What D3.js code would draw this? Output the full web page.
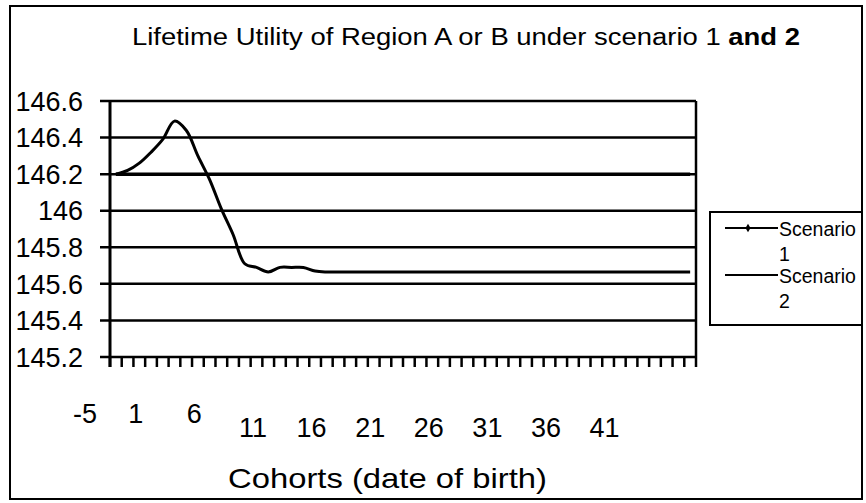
<!DOCTYPE html>
<html>
<head>
<meta charset="utf-8">
<script src="https://cdn.jsdelivr.net/npm/d3@7"></script>
<style>
  body { margin: 0; background: #fff; }
  text { font-family: "Liberation Sans", Arial, sans-serif; fill: #000; }
</style>
</head>
<body>
<svg id="chart" width="866" height="503"></svg>
<script>
// values
const cohortLabels = [-5, 1, 6, 11, 16, 21, 26, 31, 36, 41];
const yTicks = [145.2, 145.4, 145.6, 145.8, 146, 146.2, 146.4, 146.6];
const scenario1 = [
  146.20, 146.22, 146.26, 146.32, 146.39, 146.49, 146.44, 146.30, 146.17, 146.01,
  145.87, 145.71, 145.69, 145.665, 145.69, 145.69, 145.69, 145.67, 145.665, 145.665,
  145.665, 145.665, 145.665, 145.665, 145.665, 145.665, 145.665, 145.665, 145.665, 145.665,
  145.665, 145.665, 145.665, 145.665, 145.665, 145.665, 145.665, 145.665, 145.665, 145.665,
  145.665, 145.665, 145.665, 145.665, 145.665, 145.665, 145.665, 145.665, 145.665, 145.665
];
const scenario2 = scenario1.map(() => 146.2);
const seriesNames = [["Scenario", "1"], ["Scenario", "2"]];

const svg = d3.select("#chart");
const P = { left: 110, right: 696, top: 101, bottom: 357 };
const N = scenario1.length;

// category boundaries; point i sits in the middle of its slot
const xCat = d3.scaleLinear().domain([0, N]).range([P.left, P.right]);
const y = d3.scaleLinear().domain([145.2, 146.6]).range([P.bottom, P.top]);

// outer frame
svg.append("rect").attr("x", 10).attr("y", 6).attr("width", 852).attr("height", 493)
  .attr("fill", "none").attr("stroke", "#000").attr("stroke-width", 2);

// title (source is stretched sideways, so fit it to its width)
svg.append("text").attr("x", 132).attr("y", 45)
  .attr("textLength", 668).attr("lengthAdjust", "spacingAndGlyphs")
  .style("font-size", "23px")
  .call(t => {
    t.append("tspan").text("Lifetime Utility of Region A or B under scenario 1 ");
    t.append("tspan").style("font-weight", "bold").text("and 2");
  });

// gridlines
svg.append("g").selectAll("line").data(yTicks).join("line")
  .attr("x1", P.left - 10).attr("x2", P.right)
  .attr("y1", d => y(d)).attr("y2", d => y(d))
  .attr("stroke", "#000").attr("stroke-width", 2.5);

// y labels
svg.append("g").selectAll("text").data(yTicks).join("text")
  .attr("x", 83).attr("y", d => y(d)).attr("dy", "0.36em")
  .attr("text-anchor", "end").style("font-size", "27px")
  .text(d => d3.format("")(d));

// axes frame
svg.append("line").attr("x1", P.left).attr("x2", P.left).attr("y1", P.top).attr("y2", P.bottom + 10)
  .attr("stroke", "#000").attr("stroke-width", 3);
svg.append("line").attr("x1", P.right).attr("x2", P.right).attr("y1", P.top).attr("y2", P.bottom)
  .attr("stroke", "#000").attr("stroke-width", 2.5);

// x tick marks at category boundaries
svg.append("g").selectAll("line").data(d3.range(N + 1)).join("line")
  .attr("x1", d => xCat(d)).attr("x2", d => xCat(d))
  .attr("y1", P.bottom).attr("y2", P.bottom + 10)
  .attr("stroke", "#000").attr("stroke-width", 2.5);

// x labels (they sit oddly in the source; first ones higher)
svg.append("g").selectAll("text").data(cohortLabels).join("text")
  .attr("x", d => Math.max(xCat(d + 1.2), P.left - 25))
  .attr("y", d => d < 10 ? 423 : 437)
  .attr("text-anchor", "middle").style("font-size", "27px")
  .text(d => d);

svg.append("text").attr("x", 228).attr("y", 488)
  .attr("textLength", 319).attr("lengthAdjust", "spacingAndGlyphs")
  .style("font-size", "28px").text("Cohorts (date of birth)");

// series
const line = d3.line().x((d, i) => xCat(i + 0.5)).y(d => y(d)).curve(d3.curveCatmullRom.alpha(0.5));
svg.append("path").datum(scenario2).attr("d", line)
  .attr("fill", "none").attr("stroke", "#000").attr("stroke-width", 3.5);
svg.append("path").datum(scenario1).attr("d", line)
  .attr("fill", "none").attr("stroke", "#000").attr("stroke-width", 3);

// legend
const lg = svg.append("g");
lg.append("rect").attr("x", 710).attr("y", 212).attr("width", 152).attr("height", 113)
  .attr("fill", "#fff").attr("stroke", "#000").attr("stroke-width", 2);
const legY = [228, 275];
seriesNames.forEach((name, k) => {
  lg.append("line").attr("x1", 725).attr("x2", 778).attr("y1", legY[k]).attr("y2", legY[k])
    .attr("stroke", "#000").attr("stroke-width", 2);
  if (k === 0) {
    lg.append("path").attr("d", d3.symbol(d3.symbolDiamond, 22)())
      .attr("transform", `translate(748,${legY[k]})`).attr("fill", "#000");
  }
  lg.append("text").attr("x", 779).attr("y", legY[k] + 8).style("font-size", "19.5px").text(name[0]);
  lg.append("text").attr("x", 779).attr("y", legY[k] + 33).style("font-size", "19.5px").text(name[1]);
});
</script>
</body>
</html>
